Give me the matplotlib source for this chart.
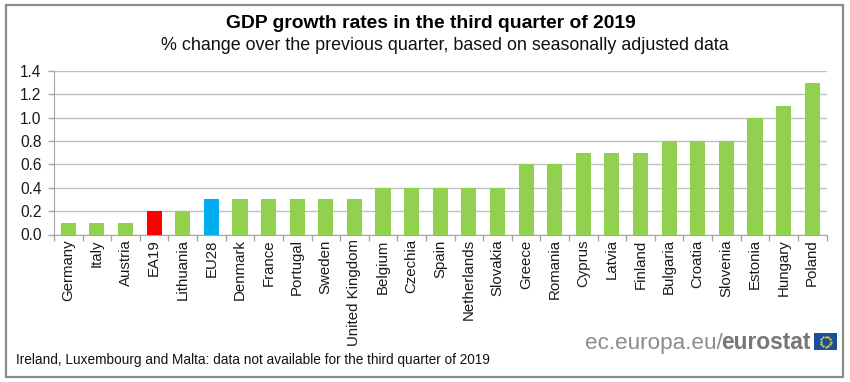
import numpy as np
import matplotlib
matplotlib.use('Agg')
import matplotlib.pyplot as plt
from matplotlib.patches import Rectangle

plt.rcParams['font.family'] = ['Liberation Sans', 'DejaVu Sans']

countries = ['Germany', 'Italy', 'Austria', 'EA19', 'Lithuania', 'EU28', 'Denmark', 'France',
             'Portugal', 'Sweden', 'United Kingdom', 'Belgium', 'Czechia', 'Spain', 'Netherlands',
             'Slovakia', 'Greece', 'Romania', 'Cyprus', 'Latvia', 'Finland', 'Bulgaria', 'Croatia',
             'Slovenia', 'Estonia', 'Hungary', 'Poland']
growth = [0.1, 0.1, 0.1, 0.2, 0.2, 0.3, 0.3, 0.3, 0.3, 0.3, 0.3, 0.4, 0.4, 0.4, 0.4,
          0.4, 0.6, 0.6, 0.7, 0.7, 0.7, 0.8, 0.8, 0.8, 1.0, 1.1, 1.3]
yticks = [0.0, 0.2, 0.4, 0.6, 0.8, 1.0, 1.2, 1.4]

W, H = 850, 382
colors = []
for c in countries:
    if c == 'EA19':
        colors.append('#ff0000')
    elif c == 'EU28':
        colors.append('#00aeef')
    else:
        colors.append('#92d050')

fig = plt.figure(figsize=(W / 100, H / 100), dpi=100)

# rahmen um die ganze grafik
fig.add_artist(Rectangle((6 / W, 1 - 377 / H), 837 / W, 372 / H, transform=fig.transFigure,
                         fill=False, ec='#8c8c8c', lw=1.6))

ax = fig.add_axes([54 / W, 1 - 234.5 / H, 772.5 / W, 163.5 / H])
x = np.arange(len(countries))
ax.bar(x, growth, width=0.53, color=colors, zorder=3)
ax.set_xlim(-0.5, len(countries) - 0.5)
ax.set_ylim(0, 1.4)
ax.set_yticks(yticks)
ax.set_yticklabels(['%.1f' % v for v in yticks], fontsize=11.2, color='#1a1a1a')
ax.set_xticks(np.arange(len(countries) + 1) - 0.5)
ax.set_xticklabels([])
ax.set_xticks(x, minor=True)
ax.set_xticklabels(countries, minor=True, rotation=90, fontsize=10.8, color='#1a1a1a')
ax.tick_params(axis='x', which='minor', length=0, pad=3.5)
ax.tick_params(axis='x', which='major', length=4, color='#a6a6a6', width=1)
ax.tick_params(axis='y', length=4, color='#a6a6a6', width=1, pad=5)
ax.grid(axis='y', color='#c0c0c0', lw=1, zorder=0)
ax.spines['top'].set_visible(False)
ax.spines['right'].set_visible(False)
ax.spines['left'].set_color('#a6a6a6')
ax.spines['bottom'].set_color('#a6a6a6')

fig.text(431 / W, 1 - 28 / H, 'GDP growth rates in the third quarter of 2019', ha='center', va='baseline',
         fontsize=13.85, fontweight='bold', color='black')
fig.text(444.5 / W, 1 - 50 / H, '% change over the previous quarter, based on seasonally adjusted data',
         ha='center', va='baseline', fontsize=12.85, color='#111111')
fig.text(16 / W, 1 - 360 / H, 'Ireland, Luxembourg and Malta: data not available for the third quarter of 2019',
         ha='left', va='center', fontsize=9.8, color='#111111')

# logo
fig.text(811 / W, 1 - 349 / H, 'eurostat', ha='right', va='baseline', fontsize=16.4,
             fontweight='bold', color='#777777')
fig.text(723 / W, 1 - 349 / H, 'ec.europa.eu/', ha='right', va='baseline', fontsize=16.2, color='#8c8c8c')
fig.add_artist(Rectangle((814 / W, 1 - 350 / H), 23 / W, 17 / H, transform=fig.transFigure,
                         fc='#1b4f9c', ec='none'))
ang = np.arange(12) * np.pi / 6
fig.add_artist(plt.Line2D((825.5 + 5 * np.cos(ang)) / W, (H - 341.5 + 5 * np.sin(ang)) / H,
                          transform=fig.transFigure, ls='none', marker='.', ms=1.5, color='#c9c94b'))

fig.savefig('out.png', dpi=100)
